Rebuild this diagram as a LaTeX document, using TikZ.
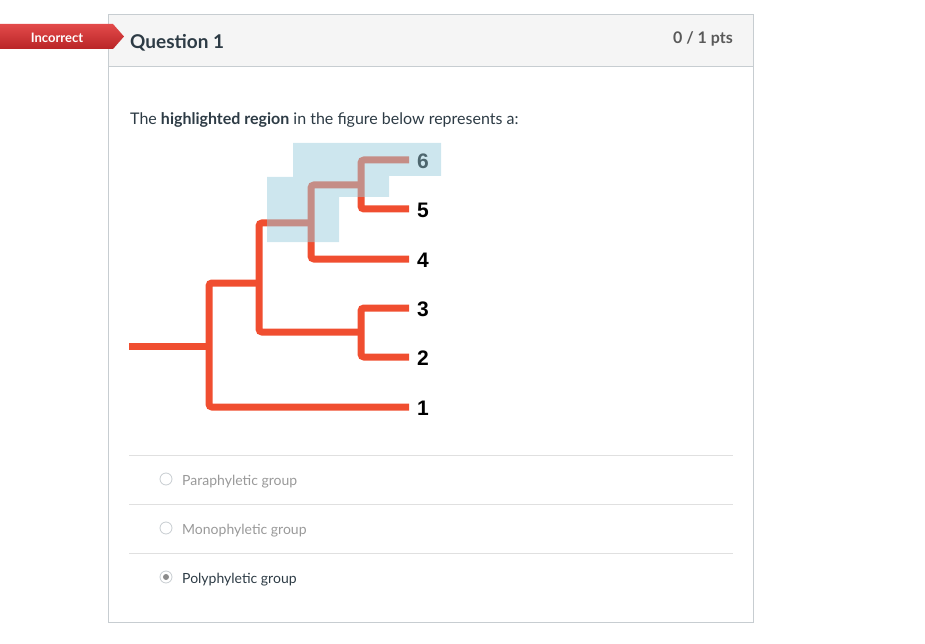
\documentclass[tikz,border=0pt]{standalone}
\usepackage{fontspec}
\setmainfont{Lato}
\newfontfamily\numfont{Liberation Sans}
\usetikzlibrary{positioning}
\definecolor{treered}{HTML}{F04E30}
\definecolor{hiblue}{HTML}{9BCDDD}
\definecolor{inkdark}{HTML}{2D3B45}
\definecolor{inkgray}{HTML}{999999}
\definecolor{rulegray}{HTML}{C7CDD1}
\definecolor{headgray}{HTML}{F5F5F5}
\definecolor{tagtop}{HTML}{E34A4A}
\definecolor{tagbot}{HTML}{B92527}

\begin{document}
\begin{tikzpicture}[x=1pt,y=-1pt,
  branch/.style={treered,line width=7pt,rounded corners=3pt},
  num/.style={font=\numfont\bfseries\fontsize{21}{21}\selectfont,inner sep=0pt,anchor=west},
  answer/.style={font=\fontsize{14}{14}\selectfont,inner sep=0pt,anchor=west},
  radio/.style={draw=rulegray,fill=white,line width=.8pt,circle,minimum size=12pt,inner sep=0pt},
  sep/.style={draw=black!12,line width=.8pt}]
  \useasboundingbox (0,0) rectangle (925,644);

  % question box and header
  \fill[headgray] (108,14) rectangle (753,66);
  \draw[rulegray] (108,14) rectangle (753,622);
  \draw[rulegray] (108,66) -- (753,66);
  \shade[top color=tagtop,bottom color=tagbot] (0,24) -- (113,24) -- (124,36.5) -- (113,49) -- (0,49) -- cycle;
  \node[text=white,font=\bfseries\fontsize{13}{13}\selectfont] (tag) at (57,37.5) {Incorrect};
  \node[inkdark,font=\bfseries\fontsize{19}{19}\selectfont,anchor=west,inner sep=0pt] (title) at (130,43) {Question 1};
  \node[black!65,font=\bfseries\fontsize{16}{16}\selectfont,anchor=east,inner sep=0pt] (pts) at (733,39) {0 / 1 pts};
  \node[inkdark,font=\fontsize{16}{16}\selectfont,anchor=west,inner sep=0pt] (prompt) at (130,120)
    {The \textbf{highlighted region} in the figure below represents a:};

  % tree
  \coordinate (root) at (129,346);
  \coordinate (a) at (209,346);
  \coordinate (b) at (259,283);
  \coordinate (c) at (311,223);
  \coordinate (d) at (361,185);
  \coordinate (e) at (361,332);
  \foreach \i/\y in {1/407,2/357,3/308,4/259,5/209,6/160}{
    \coordinate (t\i) at (409,\y);
    \node[num] (l\i) at (417,\y+1) {\i};
  }
  \draw[branch] (root) -- (a);
  \draw[branch] (t1) -| (a) |- (b);
  \draw[branch] (c) -| (b) |- (e);
  \draw[branch] (t3) -| (e) |- (t2);
  \draw[branch] (t4) -| (c) |- (d);
  \draw[branch] (t6) -| (d) |- (t5);

  % highlighted region
  \fill[hiblue,fill opacity=.5] (293,143) -- (441,143) -- (441,176) -- (389,176) -- (389,197)
    -- (339,197) -- (339,242) -- (267,242) -- (267,177) -- (293,177) -- cycle;

  % answers
  \foreach \y in {455,504,553}{
    \draw[sep] (129,\y) -- (733,\y);
  }
  \node[radio] (r1) at (166,479) {};
  \node[radio] (r2) at (166,528) {};
  \node[radio] (r3) at (166,577) {};
  \fill[black!45] (r3) circle (3pt);
  \node[answer,inkgray] (o1) at (182,481.5) {Paraphyletic group};
  \node[answer,inkgray] (o2) at (182,530.5) {Monophyletic group};
  \node[answer,inkdark] (o3) at (182,579.5) {Polyphyletic group};
\end{tikzpicture}
\end{document}
